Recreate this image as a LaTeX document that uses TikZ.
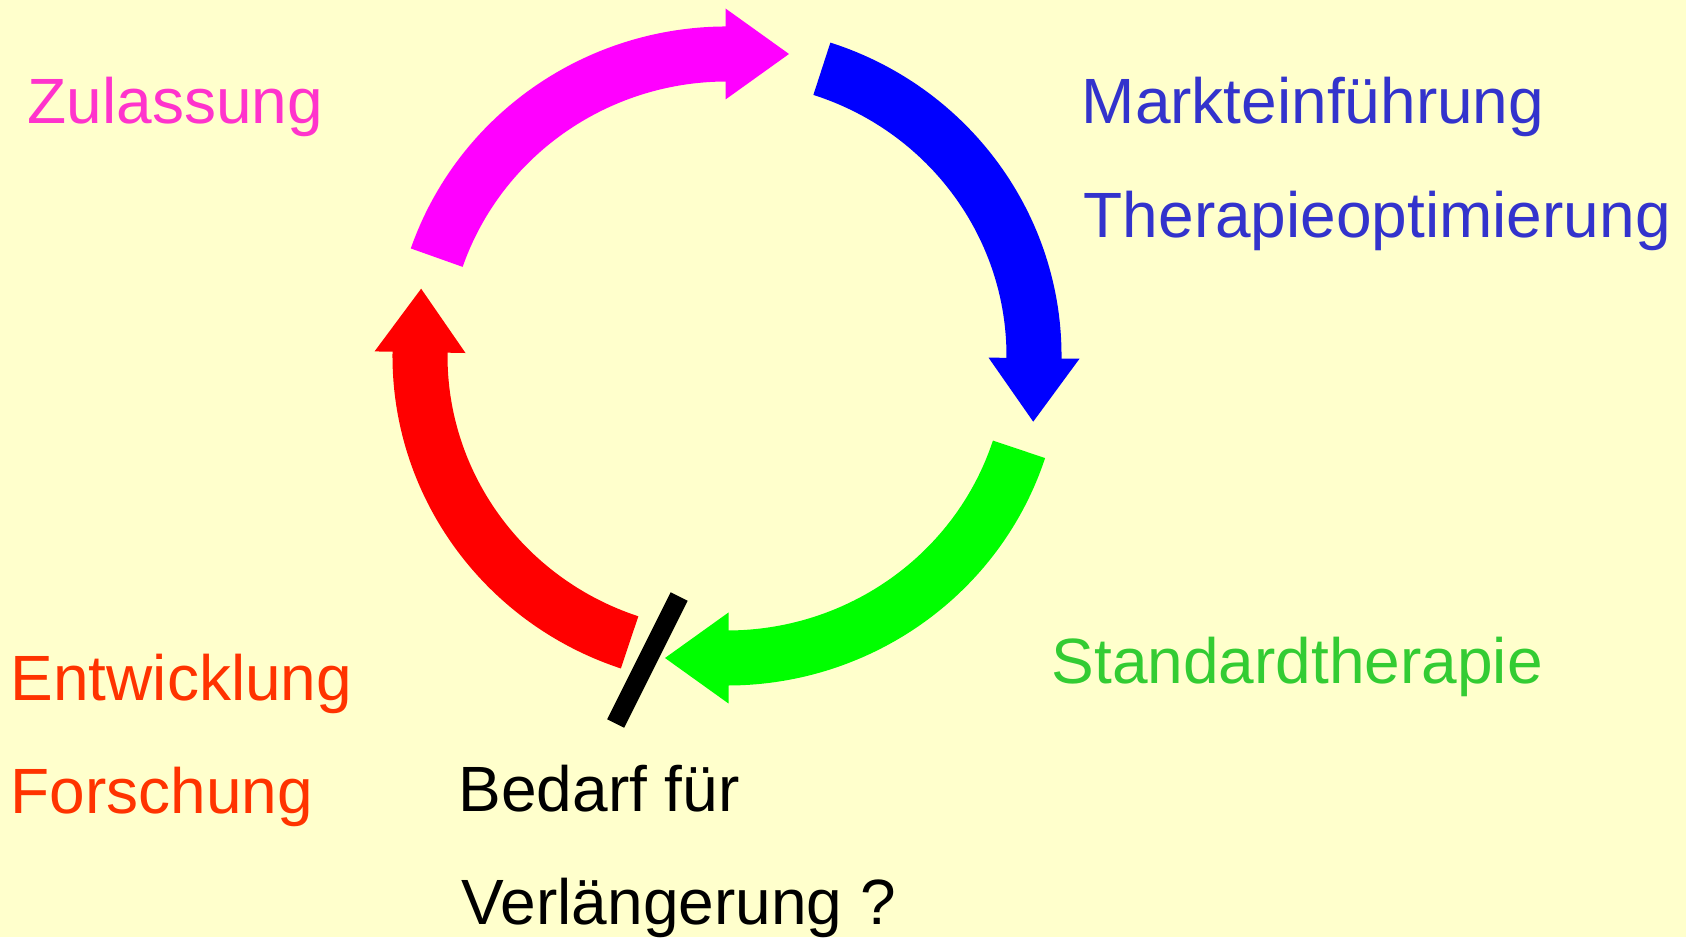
\documentclass[tikz,border=0pt]{standalone}
\usepackage{fontspec}
\setmainfont{Liberation Sans}
\usetikzlibrary{calc}
\definecolor{paper}{HTML}{FFFFCC}
\definecolor{arrmag}{HTML}{FF00FF}
\definecolor{arrblue}{HTML}{0000FF}
\definecolor{arrgreen}{HTML}{00FF00}
\definecolor{arrred}{HTML}{FF0000}
\definecolor{txtpink}{HTML}{FF33CC}
\definecolor{txtblue}{HTML}{3333CC}
\definecolor{txtgreen}{HTML}{33CC33}
\definecolor{txtred}{HTML}{FF3300}
% one curved block arrow of the cycle: colour, start angle, end angle
\newcommand\cyclearrow[3]{%
  \draw[band,#1] ($(C)+(#2:307 and 302)$)
    arc[start angle=#2,end angle=#3,x radius=307,y radius=302];
  \fill[#1,shift={($(C)+(#3:307 and 302)$)},rotate=#3-90]
    (-1.5,45.5) -- (62,0) -- (-1.5,-45.5) -- cycle;
}
\begin{document}
\begin{tikzpicture}[x=0.01cm,y=0.01cm,
  band/.style={line width=0.55cm},
  lbl/.style={anchor=base west,inner sep=0pt,font=\fontsize{18.2}{22}\selectfont}]
\fill[paper] (0,0) rectangle (1686,937);
\useasboundingbox (0,0) rectangle (1686,937);
\coordinate (C) at (727,581);

% the four phases of the cycle
\cyclearrow{arrmag}{161}{90}
\cyclearrow{arrblue}{72}{-0.7}
\cyclearrow{arrgreen}{-18}{-90}
\cyclearrow{arrred}{251.5}{179}

% break in the cycle
\coordinate (bartop) at (679.2,340.5);
\coordinate (barbot) at (615.7,213.5);
\draw[line width=0.19cm,black] (bartop) -- (barbot);

% labels
\node[lbl,txtpink]  (zul)  at (27,813)   {Zulassung};
\node[lbl,txtblue]  (mkt)  at (1081,813) {Markteinführung};
\node[lbl,txtblue]  (opt)  at (1083,699) {Therapieoptimierung};
\node[lbl,txtgreen] (std)  at (1051,253) {Standardtherapie};
\node[lbl,txtred]   (ent)  at (10,236)   {Entwicklung};
\node[lbl,txtred]   (for)  at (10,123)   {Forschung};
\node[lbl,black]    (bed)  at (458,125)  {Bedarf für};
\node[lbl,black]    (ver)  at (461,12)   {Verlängerung ?};
\end{tikzpicture}
\end{document}
